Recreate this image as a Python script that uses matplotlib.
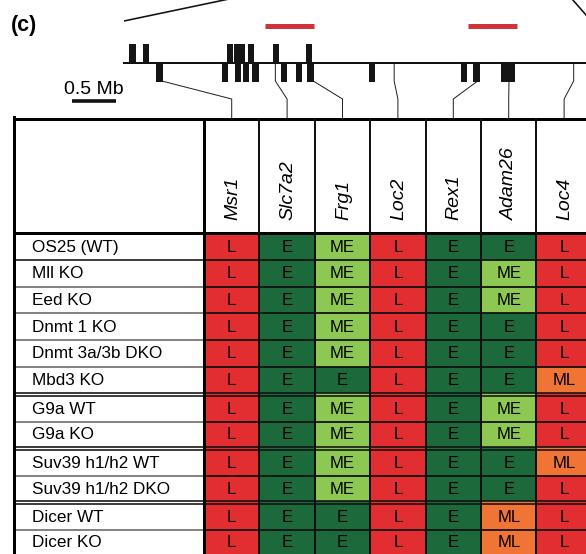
import matplotlib
matplotlib.use('Agg')
import matplotlib.pyplot as plt
from matplotlib.patches import Rectangle

# ---------------- data ----------------
genes = ['Msr1', 'Slc7a2', 'Frg1', 'Loc2', 'Rex1', 'Adam26', 'Loc4']
samples = ['OS25 (WT)', 'Mll KO', 'Eed KO', 'Dnmt 1 KO', 'Dnmt 3a/3b DKO', 'Mbd3 KO',
           'G9a WT', 'G9a KO',
           'Suv39 h1/h2 WT', 'Suv39 h1/h2 DKO',
           'Dicer WT', 'Dicer KO']
group_sizes = [6, 2, 2, 2]
states = [
    ['L', 'E', 'ME', 'L', 'E', 'E',  'L'],
    ['L', 'E', 'ME', 'L', 'E', 'ME', 'L'],
    ['L', 'E', 'ME', 'L', 'E', 'ME', 'L'],
    ['L', 'E', 'ME', 'L', 'E', 'E',  'L'],
    ['L', 'E', 'ME', 'L', 'E', 'E',  'L'],
    ['L', 'E', 'E',  'L', 'E', 'E',  'ML'],
    ['L', 'E', 'ME', 'L', 'E', 'ME', 'L'],
    ['L', 'E', 'ME', 'L', 'E', 'ME', 'L'],
    ['L', 'E', 'ME', 'L', 'E', 'E',  'ML'],
    ['L', 'E', 'ME', 'L', 'E', 'E',  'L'],
    ['L', 'E', 'E',  'L', 'E', 'ML', 'L'],
    ['L', 'E', 'E',  'L', 'E', 'ML', 'L'],
]
state_colors = {'L': '#E22D31', 'E': '#1C6A3B', 'ME': '#8DC853', 'ML': '#F07433'}

# gene bars on the chromosome map (Mb from the left end of the drawn segment)
above_start = [0.06, 0.22, 1.17, 1.25, 1.41, 1.69, 2.07]
above_end   = [0.14, 0.28, 1.24, 1.38, 1.48, 1.76, 2.14]
below_start = [0.36, 1.11, 1.26, 1.35, 1.46, 1.78, 1.96, 2.08, 2.78, 3.83, 3.97, 4.28]
below_end   = [0.44, 1.18, 1.33, 1.42, 1.53, 1.85, 2.02, 2.16, 2.85, 3.90, 4.05, 4.44]
gene_pos_mb = [0.43, 1.72, 2.15, 3.07, 4.02, 4.375, 5.11]
red_start = [1.60, 3.91]
red_end   = [2.16, 4.47]
scale_mb = 0.5
scale_label = '0.5 Mb'
panel_label = '(c)'

# ---------------- layout ----------------
W, H = 586, 554
PX = 0.72  # one pixel in points at dpi 100
plt.rcParams['font.family'] = ['Liberation Sans', 'DejaVu Sans']

fig = plt.figure(figsize=(5.86, 5.54), dpi=100)
ax = fig.add_axes([0, 0, 1, 1])
ax.set_xlim(0, W)
ax.set_ylim(H, 0)
ax.axis('off')

chr_x0, px_per_mb, chr_y = 124, 88.0, 62.5
def mbx(v):
    return chr_x0 + v * px_per_mb

# panel label
ax.text(11, 25, panel_label, fontsize=15.5, fontweight='bold', ha='left', va='center')

# zoom diagonal lines
ax.plot([124, 229], [21, -1], color='#111111', lw=1.6 * PX, solid_capstyle='butt')
ax.plot([572, 590], [-1, 19.5], color='#111111', lw=1.6 * PX, solid_capstyle='butt')

# red bars
for s, e in zip(red_start, red_end):
    ax.plot([mbx(s), mbx(e)], [25.8, 25.8], color='#D0323A', lw=5 * PX, solid_capstyle='butt')

# chromosome line
ax.plot([chr_x0, W], [chr_y, chr_y], color='#111111', lw=2 * PX, zorder=3)
for s, e in zip(above_start, above_end):
    ax.add_patch(Rectangle((mbx(s), 44), mbx(e) - mbx(s), chr_y - 44, color='#151515', lw=0, zorder=3))
for s, e in zip(below_start, below_end):
    ax.add_patch(Rectangle((mbx(s), chr_y), mbx(e) - mbx(s), 82 - chr_y, color='#151515', lw=0, zorder=3))

# table geometry
tab_left, tab_top, label_right = 13.5, 118.5, 204.0
col_w = 55.4
header_bottom = 232.5
group_top = [233.5, 396.0, 450.0, 504.0]
group_row_h = [26.6, 25.5, 26.0, 25.5]
gap = 3.4
col_centers = [label_right + col_w * (j + 0.5) for j in range(len(genes))]

# connectors from map to columns
for j, g in enumerate(gene_pos_mb):
    gx = mbx(g)
    ax.plot([gx, gx, col_centers[j], col_centers[j]], [chr_y, 81, 99, tab_top],
            color='#222222', lw=1.0 * PX, zorder=2)

# scale bar
ax.plot([72, 72 + scale_mb * px_per_mb], [100.5, 100.5], color='#111111', lw=3.6 * PX, solid_capstyle='butt')
ax.text(93.5, 93.5, scale_label, fontsize=14, ha='center', va='baseline')

# rows
row_tops, row_hs = [], []
for gi, n in enumerate(group_sizes):
    for k in range(n):
        row_tops.append(group_top[gi] + k * group_row_h[gi])
        row_hs.append(group_row_h[gi])

r = 0
for gi, n in enumerate(group_sizes):
    for k in range(n):
        y0, h = row_tops[r], row_hs[r]
        ext = gap if (k == 0 and gi > 0) else 0
        for j, st in enumerate(states[r]):
            x0 = label_right + col_w * j
            ax.add_patch(Rectangle((x0, y0 - ext), col_w, h + ext, color=state_colors[st], lw=0, zorder=1))
            ax.text(col_centers[j], y0 + h / 2 + 0.5, st, fontsize=12, ha='center', va='center', zorder=4)
        ax.text(32, y0 + h / 2 + 0.5, samples[r], fontsize=12.3, ha='left', va='center', zorder=4)
        # bottom separator inside group
        if k < n - 1:
            yb = y0 + h
            lab_col = '#111111' if r == 0 else '#666666'
            ax.plot([tab_left, label_right], [yb, yb], color=lab_col, lw=1.6 * PX, zorder=2)
            ax.plot([label_right, W], [yb, yb], color='#111111', lw=1.8 * PX, zorder=2)
        r += 1

# double lines between groups
for gi in range(1, len(group_sizes)):
    for yy in (group_top[gi] - gap, group_top[gi]):
        ax.plot([tab_left, W], [yy, yy], color='#111111', lw=1.6 * PX, zorder=2)

# outer and header lines
ax.plot([tab_left, W], [tab_top, tab_top], color='black', lw=3 * PX, zorder=3)
ax.plot([tab_left, W], [header_bottom, header_bottom], color='black', lw=3 * PX, zorder=3)
ax.plot([tab_left, tab_left], [tab_top - 1.5, H], color='black', lw=3 * PX, zorder=3)
ax.plot([label_right, label_right], [tab_top, H], color='black', lw=3 * PX, zorder=3)
for j in range(1, len(genes) + 1):
    xx = label_right + col_w * j
    ax.plot([xx, xx], [tab_top, H], color='#111111', lw=2 * PX, zorder=3)

# gene headers
for j, g in enumerate(genes):
    ax.text(col_centers[j] + 1, 220, g, fontsize=14, style='italic', rotation=90,
            ha='center', va='bottom', zorder=4)

fig.savefig('out.png', dpi=100)
